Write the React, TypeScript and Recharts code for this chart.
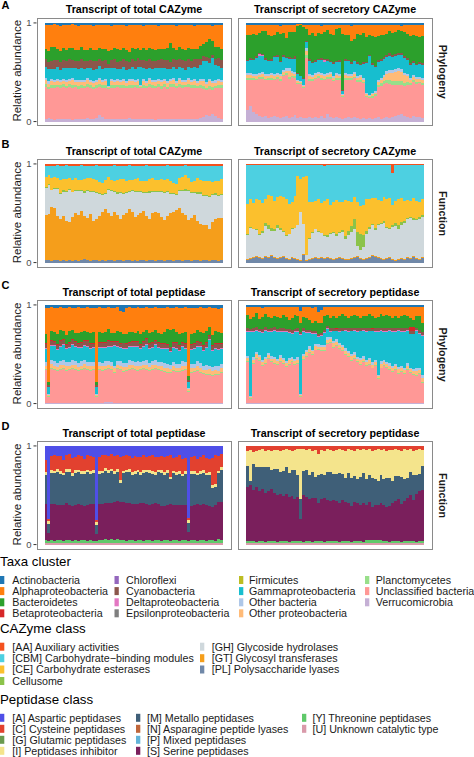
import React from 'react';
import { BarChart, Bar, XAxis, YAxis } from 'recharts';

// 60 samples per panel, same order in every panel
const SAMPLES = Array.from({ length: 60 }, (_, i) => `S${String(i + 1).padStart(2, '0')}`);

// ---------- legend groups ----------
const TAXA = [
  'Actinobacteria', 'Alphaproteobacteria', 'Bacteroidetes', 'Betaproteobacteria',
  'Chloroflexi', 'Cyanobacteria', 'Deltaproteobacteria', 'Epsilonproteobacteria',
  'Firmicutes', 'Gammaproteobacteria', 'Other bacteria', 'Other proteobacteria',
  'Planctomycetes', 'Unclassified bacteria', 'Verrucomicrobia',
];
const TAXA_COLORS = [
  '#1f77b4', '#ff7f0e', '#2ca02c', '#d62728', '#9467bd', '#8c564b', '#e377c2', '#7f7f7f',
  '#bcbd22', '#17becf', '#aec7e8', '#ffbb78', '#98df8a', '#ff9896', '#c5b0d5',
];
const CAZY = [
  '[AA] Auxiliary activities', '[CBM] Carbohydrate\u2212binding modules', '[CE] Carbohydrate esterases', 'Cellusome',
  '[GH] Glycoside hydrolases', '[GT] Glycosyl transferases', '[PL] Polysaccharide lyases',
];
const CAZY_COLORS = ['#f4511e', '#4dd0e1', '#fbc02d', '#8bc34a', '#cfd8dc', '#f59e1b', '#7088a8'];
const PEPT = [
  '[A] Aspartic peptidases', '[C] Cysteine peptidases', '[G] Glutamic peptidases', '[I] Peptidases inhibitor',
  '[M] Metallo peptidases', '[N] Asparagine peptide lyases', '[P] Mixed peptidases', '[S] Serine peptidases',
  '[Y] Threonine peptidases', '[U] Unknown catalytic type',
];
const PEPT_COLORS = ['#4f4fe8', '#e2412f', '#6a9a4f', '#f4e48c', '#3f5f78', '#c0663a', '#62b3d8', '#7a1f5c', '#5fc96a', '#d99aaa'];

// ---------- A: total CAZyme, phylogeny ----------
const aTVerru = [3,3,3,2,3,3,3,3,3,2, 3,3,3,3,3,3,3,4,7,5, 3,3,3,3,3,3,3,3,3,3, 3,3,3,3,3,3,3,2,3,3, 3,3,3,3,3,3,3,3,3,3, 3,3,4,5,7,6,8,5,4,3];
const aTUncl = [31,29,30,31,31,30,31,30,31,31, 31,30,31,30,31,31,30,29,27,28, 31,30,31,30,31,30,31,31,30,31, 31,30,31,31,30,31,30,31,31,30, 31,30,31,31,30,31,30,31,31,30, 31,30,29,28,26,27,25,28,29,30];
const aTPlanc = [3,2,3,3,2,3,3,2,3,3, 2,3,3,2,3,3,2,3,3,3, 3,1,3,3,2,3,3,2,3,3, 2,3,1,3,2,3,3,2,3,3, 3,2,3,3,2,3,3,2,3,3, 3,2,3,3,2,3,3,2,3,3];
const aTOthP = [4,3,4,3,4,3,3,4,3,4, 3,4,3,4,3,3,4,3,4,3, 4,1,4,3,4,3,4,3,3,4, 3,4,1,4,3,4,3,4,3,4, 3,4,3,4,3,4,3,3,4,3, 4,3,4,5,4,5,4,3,4,3];
const aTOthB = [2,2,2,2,2,2,2,2,2,2, 2,2,2,2,2,2,2,2,2,2, 2,1,2,2,2,2,2,2,2,2, 2,2,1,2,2,2,2,2,2,2, 2,2,2,2,2,2,2,2,2,2, 2,2,2,2,2,2,2,2,2,2];
const aTGamma = [11,12,10,11,12,10,11,12,11,10, 12,11,12,11,10,12,11,11,12,11, 11,18,11,12,10,11,12,11,10,12, 11,12,18,11,12,10,11,12,11,12, 11,12,10,11,12,11,12,10,11,12, 12,13,14,18,22,16,24,15,13,12];
const aTCyano = [8,7,8,9,7,8,8,7,9,8, 7,8,9,8,7,8,9,8,7,8, 8,4,8,9,7,8,8,9,7,8, 8,9,7,8,8,9,8,7,8,9, 8,9,7,8,9,8,8,9,8,7, 8,9,6,5,4,5,3,6,8,8];
const aTBact = [10,11,13,12,10,11,12,10,11,12, 10,11,12,10,11,12,11,10,11,12, 11,13,10,11,12,10,11,12,10,11, 12,10,11,12,10,11,12,10,11,10, 11,12,19,11,10,12,11,10,11,12, 11,10,12,13,16,20,14,12,11,10];
const aTAlpha = [24,25,22,23,24,25,23,25,23,23, 25,24,22,25,24,23,24,25,23,24, 24,26,24,23,24,25,23,24,26,23, 24,23,25,22,25,23,24,25,23,24, 24,23,18,23,24,22,24,25,23,24, 23,24,21,19,18,14,16,21,22,24];
const aTActino = [2,2,2,1,2,3,2,2,2,1, 2,3,2,2,2,2,3,2,2,2, 2,2,3,2,2,2,2,3,2,2, 2,2,2,3,2,2,2,2,3,2, 2,2,2,2,3,2,2,2,2,2, 3,2,2,2,2,2,3,2,2,2];

// ---------- A: secretory CAZyme, phylogeny ----------
const aSVerru = [12,16,10,8,6,5,6,4,5,6, 5,4,5,6,4,5,6,4,5,4, 4,5,4,5,4,6,4,8,5,4, 5,4,3,4,5,4,5,4,3,4, 3,4,3,4,5,3,4,5,4,5, 6,7,8,6,5,4,6,5,5,4];
const aSUncl = [30,26,32,34,37,38,36,38,37,36, 38,37,40,41,38,39,37,36,35,30, 60,36,37,38,40,37,39,35,38,37, 37,38,22,38,37,39,38,36,37,35, 22,20,21,22,30,32,33,34,33,32, 30,29,29,30,32,33,34,33,34,33];
const aSPlanc = [2,2,2,1,2,2,1,2,2,1, 2,2,1,2,2,1,2,1,1,1, 3,2,2,1,2,2,1,2,2,1, 2,2,1,2,2,2,1,2,2,1, 1,1,2,2,2,3,3,3,4,4, 4,4,4,3,3,2,2,2,2,2];
const aSOthP = [3,3,2,3,2,3,3,2,3,3, 2,3,3,2,6,3,2,2,1,1, 5,3,2,3,2,3,3,2,3,2, 3,2,1,3,2,3,3,2,3,2, 2,1,2,2,3,3,4,6,7,8, 9,10,9,8,6,4,3,3,3,3];
const aSOthB = [2,2,2,2,2,2,2,2,2,2, 2,2,2,3,3,2,2,1,1,1, 3,2,2,2,2,2,2,2,2,2, 2,2,1,2,2,2,2,2,2,2, 1,1,1,2,2,2,2,3,3,3, 3,3,3,2,2,2,2,2,2,2];
const aSGamma = [12,13,14,16,17,16,14,13,12,17, 16,12,13,10,9,12,13,6,5,6, 6,13,12,11,12,13,12,12,10,12, 11,12,3,12,13,10,11,12,10,14, 30,40,28,24,18,17,16,14,13,13, 13,13,14,15,14,13,12,12,13,13];
const aSDelta = [0,0,0,0,2,1,0,0,0,0, 0,0,0,0,0,0,0,0,0,0, 0,0,0,0,0,0,2,0,0,0, 0,0,0,0,0,0,0,0,0,0, 0,0,0,0,0,0,0,0,0,0, 0,0,0,0,0,0,0,0,0,0];
const aSCyano = [1,2,1,2,2,1,2,1,2,1, 2,1,2,1,2,1,2,1,1,1, 1,2,1,2,1,2,1,2,1,2, 1,2,1,2,1,2,1,2,1,2, 1,1,2,1,2,2,2,2,3,2, 2,2,3,2,2,2,2,1,2,2];
const aSBact = [26,24,26,22,20,24,28,26,24,22, 24,28,22,20,25,26,24,50,54,52, 12,25,30,24,26,25,28,30,28,27, 32,33,56,24,26,22,21,28,30,30, 26,21,28,30,25,23,22,21,22,22, 22,23,22,25,25,28,27,29,26,27];
const aSAlpha = [10,10,9,10,8,6,6,10,11,10, 7,8,8,13,7,7,7,2,1,2, 4,10,8,11,8,8,7,5,9,10, 4,3,9,10,10,16,14,9,10,8, 12,10,11,13,11,10,10,9,6,8, 7,5,5,7,9,11,10,11,12,11];
const aSActino = [2,2,2,2,2,2,2,2,2,2, 2,3,2,2,2,2,2,1,1,2, 2,2,2,2,2,3,2,2,2,2, 2,2,2,2,2,3,2,2,2,2, 2,2,2,2,2,2,2,2,2,2, 2,2,3,2,2,2,2,2,2,2];

// ---------- B: total CAZyme, function ----------
const bTPL = [3,3,2,3,3,2,3,2,3,2, 3,2,3,4,3,2,3,3,2,3, 2,3,3,2,3,3,2,3,3,2, 3,2,3,3,2,3,3,2,3,3, 2,3,3,2,3,3,2,3,3,2, 3,3,2,3,3,2,3,3,2,3];
const bTGT = [45,46,54,52,44,42,45,40,38,44, 48,45,50,46,44,48,40,42,46,49, 52,48,45,50,47,42,46,48,52,50, 44,46,48,50,45,42,47,50,48,44, 42,45,48,50,54,52,48,45,40,44, 46,40,38,36,35,32,38,42,43,43];
const bTGH = [28,30,18,20,28,26,24,30,32,26, 22,24,20,24,28,22,30,26,22,18, 16,24,26,20,22,28,22,20,18,22, 26,24,22,18,24,28,22,20,22,26, 28,24,20,18,16,18,22,24,30,25, 22,28,30,30,30,32,28,24,22,24];
const bTCell = [1,1,0,1,1,1,2,1,1,0, 1,1,1,2,1,1,1,1,1,1, 1,1,1,1,2,1,1,1,1,1, 1,1,1,1,1,2,1,1,1,1, 1,1,1,1,1,1,1,2,1,1, 1,2,2,1,1,1,1,2,1,1];
const bTCE = [10,9,12,11,10,13,12,12,11,12, 13,10,11,13,12,14,12,13,12,11, 13,12,10,11,12,13,14,12,11,10, 12,13,10,12,11,12,13,12,11,12, 12,13,12,10,11,12,13,14,12,11, 12,14,13,14,15,16,12,13,14,15];
const bTCBM = [11,9,12,11,13,14,13,14,12,14, 12,14,15,14,13,12,14,15,16,18, 14,12,15,16,15,14,13,15,16,15, 14,12,16,15,16,14,12,14,15,14, 15,14,16,18,20,12,11,10,12,16, 15,13,14,16,15,15,16,15,15,14];
const bTAA = [2,2,2,2,1,2,2,1,2,2, 2,2,1,2,2,2,2,1,2,2, 2,2,2,1,2,2,2,2,1,2, 2,2,2,2,1,2,2,2,2,2, 2,1,2,2,2,2,2,1,2,2, 2,2,2,2,2,2,2,2,2,2];

// ---------- B: secretory CAZyme, function ----------
const bSPL = [3,4,5,6,5,4,6,5,7,5, 4,5,6,4,3,5,4,3,2,8, 2,3,4,5,4,5,4,5,4,3, 4,5,4,3,3,4,5,6,4,3, 4,5,7,6,5,4,3,4,5,3, 2,3,4,3,5,4,6,4,3,5];
const bSGT = [1,1,1,1,1,1,1,1,1,1, 1,1,1,1,1,1,1,1,1,1, 1,1,1,1,1,1,1,1,1,1, 1,1,1,1,1,1,1,1,1,1, 1,1,1,1,1,1,1,1,1,1, 1,1,1,1,1,1,1,1,1,1];
const bSGH = [24,30,28,26,22,25,30,28,24,26, 30,27,24,22,25,28,30,34,48,30, 5,20,25,28,26,24,22,20,24,26, 22,24,26,20,24,26,28,10,8,12, 24,28,30,26,32,34,36,30,28,32, 34,30,33,36,38,40,36,38,40,40];
const bSCell = [1,1,0,1,1,2,3,4,3,2, 3,2,1,1,0,1,0,0,0,0, 0,1,1,0,1,0,1,2,1,1, 2,1,2,3,4,6,10,14,16,12, 3,2,1,2,1,1,2,1,1,2, 3,4,3,2,1,1,2,1,2,2];
const bSCE = [30,28,26,30,34,28,24,30,32,28, 28,32,34,36,30,26,32,50,34,48, 80,36,30,28,32,30,34,36,28,30, 34,30,28,36,30,24,22,30,28,30, 32,28,26,30,24,22,24,28,30,20, 22,26,24,20,18,16,20,18,15,16];
const bSCBM = [40,35,39,35,36,39,35,31,32,37, 33,32,33,35,40,38,32,11,14,12, 11,38,38,37,35,39,36,35,41,38, 36,38,38,36,37,38,33,38,42,41, 35,35,34,34,36,37,33,35,34,33, 37,35,34,37,36,37,34,37,38,35];
const bSAA = [1,1,1,1,1,1,1,1,1,1, 1,1,1,1,1,1,1,1,1,1, 1,1,1,1,1,1,2,1,1,1, 1,1,1,1,1,1,1,1,1,1, 1,1,1,1,1,1,1,1,1,9, 1,1,1,1,1,1,1,1,1,1];

// ---------- C: total peptidase, phylogeny ----------
const cTVerru = [1,1,1,1,1,1,1,1,1,1, 1,1,1,1,1,1,1,1,1,1, 2,2,2,1,1,1,1,1,1,1, 1,1,1,1,1,1,1,1,1,1, 1,1,1,1,1,1,1,1,1,1, 1,1,1,1,1,1,1,1,1,1];
const cTUncl = [33,6,34,33,32,33,34,32,33,34, 33,32,33,34,33,32,33,6,33,32, 32,33,32,30,33,34,33,32,33,34, 33,32,33,34,33,32,33,34,33,32, 31,30,31,32,31,30,31,32,11,29, 30,31,29,28,27,28,26,27,28,29];
const cTPlanc = [1,1,1,1,1,1,1,1,1,1, 1,1,1,1,1,1,1,1,1,1, 1,1,1,1,1,1,1,1,1,1, 1,1,1,1,1,1,1,1,1,1, 1,1,1,1,1,1,1,1,1,1, 1,1,1,1,1,1,1,1,1,1];
const cTOthP = [3,1,4,3,3,4,3,4,3,3, 4,3,3,4,3,4,3,1,3,4, 3,4,3,4,3,3,4,3,4,3, 3,4,3,3,4,3,4,3,3,4, 3,4,3,4,3,3,4,3,2,4, 3,4,4,3,4,5,4,4,3,4];
const cTOthB = [4,1,4,5,4,4,5,4,4,5, 4,4,5,4,4,5,4,1,4,4, 5,4,4,2,4,5,4,4,5,4, 4,5,4,4,5,4,4,5,4,4, 5,4,4,5,4,4,5,4,1,4, 4,5,4,4,5,3,4,4,5,4];
const cTGamma = [13,7,14,15,13,14,15,13,14,15, 14,15,13,14,15,13,14,7,14,15, 13,14,15,20,14,13,15,14,13,14, 15,14,13,14,15,14,13,15,14,13, 14,15,13,14,15,13,14,13,6,14, 15,14,16,15,17,26,15,17,16,15];
const cTDelta = [1,0,1,1,1,1,1,1,1,1, 1,1,1,1,1,1,1,0,1,1, 1,1,1,1,1,1,1,1,1,1, 1,1,1,1,1,1,1,1,1,1, 1,1,1,1,1,1,1,1,0,1, 1,1,1,1,1,1,1,1,1,1];
const cTCyano = [4,2,4,3,4,5,4,3,4,4, 4,3,4,4,5,4,3,2,4,4, 4,5,4,3,4,4,5,4,3,4, 4,4,3,4,5,4,4,3,4,4, 4,3,4,4,5,4,3,4,2,4, 4,4,3,4,4,3,4,4,5,4];
const cTBeta = [1,0,1,1,1,1,1,1,1,1, 1,1,1,1,1,1,1,0,1,1, 1,1,1,1,1,1,1,1,1,1, 1,1,1,1,1,1,1,1,1,1, 1,1,1,1,1,1,1,1,0,1, 1,1,1,1,1,1,1,1,1,1];
const cTBact = [10,3,9,10,11,10,9,10,11,10, 9,10,11,10,9,10,11,3,10,9, 10,11,9,8,10,11,9,10,11,10, 9,10,11,10,9,10,11,10,9,10, 12,16,17,13,10,11,9,10,4,10, 9,11,10,12,10,8,10,12,11,9];
const cTAlpha = [26,75,24,24,26,23,23,27,24,22, 25,26,24,23,25,26,24,75,25,26, 24,23,25,25,24,22,24,26,25,24, 25,24,26,24,23,25,24,23,25,26, 24,22,23,22,25,26,25,25,71,26, 25,22,24,25,23,20,26,23,23,25];
const cTActino = [3,3,2,3,3,2,3,3,2,3, 3,2,3,3,2,3,3,3,2,3, 3,2,3,3,2,6,7,3,2,3, 3,2,3,3,2,3,3,2,3,3, 3,2,3,3,2,3,3,2,3,3, 3,3,2,3,3,2,3,3,4,3];

// ---------- C: secretory peptidase, phylogeny ----------
const cSVerru = [1,1,1,1,1,1,1,1,1,1, 1,1,1,1,1,1,1,1,1,1, 1,1,1,1,1,1,1,1,1,1, 1,1,1,1,1,1,1,1,1,1, 1,1,1,1,1,1,1,1,1,1, 1,1,1,1,1,1,1,1,1,1];
const cSUncl = [42,4,40,44,42,38,40,44,42,40, 38,42,40,36,40,42,38,40,6,44, 48,52,50,55,58,56,54,60,62,58, 60,56,54,50,48,44,46,42,40,42, 38,40,36,38,24,36,38,36,34,32, 34,30,32,30,34,32,30,28,30,20];
const cSPlanc = [1,1,1,1,1,1,1,1,1,1, 1,1,1,1,1,1,1,1,1,1, 1,1,1,1,1,1,1,1,1,1, 1,1,1,1,1,1,1,1,1,1, 1,1,1,1,1,1,1,1,1,1, 1,1,1,1,1,1,1,1,1,1];
const cSOthP = [3,1,3,4,3,3,4,3,3,4, 3,4,3,3,4,3,3,4,1,3, 4,3,3,4,3,3,4,3,3,4, 3,3,4,3,3,4,3,3,4,3, 3,4,3,3,2,4,3,3,4,3, 3,4,3,3,4,3,3,4,3,4];
const cSOthB = [2,1,3,2,2,3,2,2,3,2, 2,3,2,2,3,2,2,3,1,2, 2,3,2,2,3,2,2,3,2,2, 3,2,2,3,2,2,3,2,2,3, 2,2,3,2,2,3,2,2,3,2, 2,3,2,2,3,2,2,3,2,3];
const cSGamma = [24,64,26,22,24,28,26,22,25,26, 28,24,26,30,26,24,28,26,60,22, 18,14,16,10,8,10,12,8,6,10, 8,12,14,18,20,24,22,26,28,26, 30,28,32,30,44,32,30,32,34,36, 34,38,36,38,34,36,38,40,36,40];
const cSDelta = [1,1,1,1,1,1,1,1,1,1, 1,1,1,1,1,1,1,1,1,1, 1,1,1,1,1,1,1,1,1,1, 1,1,1,1,1,1,1,1,1,1, 1,1,1,1,1,1,1,1,1,1, 1,1,1,1,1,1,1,1,1,1];
const cSCyano = [3,2,3,3,2,3,3,2,3,3, 2,3,3,2,3,3,2,3,2,3, 3,2,3,3,2,3,3,2,3,3, 2,3,3,2,3,3,2,3,3,2, 3,3,2,3,3,2,3,3,2,3, 3,2,3,3,2,3,3,2,3,3];
const cSBeta = [0,0,0,0,0,0,0,0,0,0, 0,0,0,0,0,0,0,0,0,0, 0,0,0,0,0,0,0,0,0,0, 1,0,0,0,0,0,0,0,0,0, 0,0,1,0,0,0,0,0,0,0, 0,0,0,0,0,4,4,0,0,0];
const cSBact = [14,10,12,14,10,12,14,12,10,12, 12,10,14,12,10,12,14,12,10,12, 12,10,8,10,12,10,14,12,10,12, 10,12,14,12,10,12,14,12,10,12, 12,14,12,10,12,14,12,14,12,10, 12,10,12,14,12,10,8,12,14,10];
const cSAlpha = [8,12,10,6,12,10,7,10,12,9, 10,12,8,10,14,12,8,10,12,10, 12,14,16,15,12,14,10,8,12,10, 12,10,8,10,12,10,8,10,12,10, 10,8,10,12,10,8,10,8,10,12, 10,12,10,8,10,12,14,10,10,16];
const cSActino = [2,2,2,2,2,3,2,2,2,2, 2,2,2,2,2,2,2,2,6,2, 2,2,3,2,8,6,2,2,2,2, 2,2,2,2,2,2,2,2,2,2, 2,2,2,2,2,2,2,2,2,2, 2,2,2,2,2,2,2,2,2,2];

// ---------- D: total peptidase, function ----------
const dTU = [2,2,2,2,2,2,2,2,2,2, 2,2,2,2,2,2,2,2,2,2, 2,2,2,2,2,2,2,2,2,2, 2,2,2,2,2,2,2,2,2,2, 2,2,2,2,2,2,2,2,2,2, 2,2,2,2,2,2,2,2,2,2];
const dTY = [3,2,3,2,3,3,2,3,3,2, 3,2,3,3,2,3,2,2,3,3, 4,3,4,3,4,3,3,2,3,3, 2,3,3,2,3,3,2,3,3,2, 3,3,2,3,3,2,3,3,2,3, 3,2,3,3,2,3,3,2,4,3];
const dTS = [36,8,36,37,36,35,36,37,36,35, 36,37,36,35,36,37,38,7,37,36, 37,38,37,39,40,41,40,39,38,37, 38,37,38,39,37,36,37,38,37,36, 35,36,37,36,35,36,35,36,8,35, 36,37,36,37,36,35,34,37,38,39];
const dTM = [30,9,32,31,33,32,31,32,33,31, 32,33,31,32,33,30,31,9,31,32, 33,31,32,30,31,20,30,31,32,30, 31,32,30,31,33,32,31,30,32,33, 31,32,25,33,31,32,30,31,9,32, 31,30,32,31,30,32,20,18,30,32];
const dTI = [3,3,3,2,3,3,2,3,3,3, 3,2,3,3,2,3,3,3,3,2, 3,3,2,3,3,3,3,2,3,3, 3,2,3,3,2,3,3,3,2,3, 3,3,3,2,3,3,2,3,3,3, 3,2,3,3,2,3,3,3,2,3];
const dTC = [12,2,14,16,14,15,13,14,16,15, 14,15,16,13,15,16,14,2,15,16, 14,15,16,15,14,25,15,16,14,15, 16,14,15,16,14,15,16,15,14,15, 16,15,22,14,15,16,15,14,2,15, 16,14,15,16,15,14,28,30,16,14];
const dTA = [14,74,10,9,10,10,14,9,8,12, 11,9,10,13,9,10,11,75,11,9, 9,10,8,11,10,12,11,9,10,12, 10,11,12,9,11,10,9,12,11,10, 11,10,9,12,11,9,13,12,72,11, 10,13,11,9,12,13,12,9,10,8];

// ---------- D: secretory peptidase, function ----------
const dSU = [2,2,2,2,2,2,2,2,2,2, 2,2,2,2,2,2,2,2,2,2, 2,2,2,2,2,2,2,2,2,2, 2,2,2,2,2,2,2,2,2,2, 2,2,2,2,2,2,2,2,2,2, 2,2,2,2,2,2,2,2,2,2];
const dSY = [2,2,2,1,2,2,1,2,2,2, 1,2,2,2,1,2,2,2,2,1, 2,2,1,2,2,2,1,2,2,2, 2,1,2,2,2,1,2,2,2,1, 3,3,3,3,3,3,2,2,1,2, 2,2,1,2,2,2,2,1,2,2];
const dSS = [54,56,52,55,50,52,48,50,52,48, 46,48,45,47,44,46,42,44,22,46, 44,42,45,43,40,42,44,41,40,42, 40,38,42,40,38,36,40,38,36,38, 36,38,34,36,35,38,36,34,36,38, 40,42,38,40,44,46,42,48,50,52];
const dSM = [22,4,26,20,24,22,26,24,20,24, 26,22,25,28,24,26,30,22,20,24, 28,24,26,22,30,26,24,28,30,26, 28,30,26,24,30,28,26,24,28,30, 26,28,30,26,24,28,26,30,28,22, 26,24,28,22,20,24,26,20,18,24];
const dSI = [15,31,13,16,17,18,16,17,19,19, 19,22,21,18,23,20,20,26,51,22, 20,26,22,27,22,24,24,23,22,24, 24,24,25,28,24,28,26,30,28,24, 30,26,28,30,33,26,30,28,28,32, 27,26,26,31,29,23,25,25,25,17];
const dSC = [5,4,6,5,4,3,5,4,5,4, 4,5,4,3,4,5,4,3,3,3, 4,3,5,4,9,4,5,3,4,5, 4,3,4,5,3,4,5,3,4,3, 4,3,5,4,3,4,3,5,4,4, 3,4,5,3,4,3,5,4,3,4];

// ---------- helpers ----------
type Cols = Record<string, number[]>;

const buildRows = (cols: Cols) =>
  SAMPLES.map((s, i) => {
    const row: Record<string, string | number> = { sample: s };
    Object.keys(cols).forEach((k) => {
      row[k] = cols[k][i];
    });
    return row;
  });

const colorMap = (names: string[], colors: string[]) => {
  const m: Record<string, string> = {};
  names.forEach((n, i) => (m[n] = colors[i]));
  return m;
};

const TAXA_COLOR = colorMap(TAXA, TAXA_COLORS);
const CAZY_COLOR = colorMap(CAZY, CAZY_COLORS);
const PEPT_COLOR = colorMap(PEPT, PEPT_COLORS);

const FONT = '"Liberation Sans", Arial, Helvetica, sans-serif';
const BOX_W = 195;
const BOX_H = 108.5;
const Y_PAD = (BOX_H * 0.05) / 1.1; // ggplot-style 5% expansion above 1 and below 0
const LEFT_BOX_X = 36.5;
const RIGHT_BOX_X = 237.5;
const ROW_TOP = [17.5, 159.2, 300.3, 441.3];

interface PanelProps {
  cols: Cols;
  order: string[]; // legend order, first level drawn on top
  colors: Record<string, string>;
  left: number;
  top: number;
  showY: boolean;
}

const Panel: React.FC<PanelProps> = ({ cols, order, colors, left, top, showY }) => {
  const rows = buildRows(cols);
  const stack = order.filter((k) => k in cols).reverse();
  const axisW = showY ? LEFT_BOX_X : 0;
  return (
    <div style={{ position: 'absolute', left: left - axisW, top }}>
      <BarChart
        width={BOX_W + axisW}
        height={BOX_H}
        data={rows}
        stackOffset="expand"
        barCategoryGap={0}
        margin={{ top: Y_PAD, right: 0, bottom: Y_PAD, left: 0 }}
      >
        <XAxis dataKey="sample" hide padding={{ left: 8, right: 9 }} />
        <YAxis
          hide={!showY}
          width={axisW}
          type="number"
          domain={[0, 1]}
          ticks={[0, 1]}
          interval={0}
          axisLine={false}
          tickSize={3}
          tickMargin={2}
          tickLine={{ stroke: '#333333' }}
          tick={{ fontSize: 9.5, fill: '#4d4d4d', fontFamily: FONT }}
        />
        {stack.map((k) => (
          <Bar key={k} dataKey={k} stackId="s" fill={colors[k]} isAnimationActive={false} />
        ))}
      </BarChart>
      <div
        style={{
          position: 'absolute',
          left: axisW,
          top: 0,
          width: BOX_W,
          height: BOX_H,
          border: '1px solid #8a8a8a',
          boxSizing: 'border-box',
          pointerEvents: 'none',
        }}
      />
    </div>
  );
};

const LegendBlock: React.FC<{
  title: string;
  titleY: number;
  names: string[];
  colors: string[];
  keyX: number[];
  textX: number[];
  rowY: number[];
}> = ({ title, titleY, names, colors, keyX, textX, rowY }) => (
  <g>
    <text x={0} y={titleY} fontSize={13.3} fill="#000">{title}</text>
    {names.map((n, i) => {
      const c = Math.floor(i / rowY.length);
      const r = i % rowY.length;
      return (
        <g key={n}>
          <rect x={keyX[c]} y={rowY[r] - 4} width={4.3} height={8} fill={colors[i]} />
          <text x={textX[c]} y={rowY[r] + 3.8} fontSize={10.7} fill="#1a1a1a">{n}</text>
        </g>
      );
    })}
  </g>
);

const ROWS = [
  { letter: 'A', left: 'Transcript of total CAZyme', right: 'Transcript of secretory CAZyme', strip: 'Phylogeny' },
  { letter: 'B', left: 'Transcript of total CAZyme', right: 'Transcript of secretory CAZyme', strip: 'Function' },
  { letter: 'C', left: 'Transcript of total peptidase', right: 'Transcript of secretory peptidase', strip: 'Phylogeny' },
  { letter: 'D', left: 'Transcript of total peptidase', right: 'Transcript of secretory peptidase', strip: 'Function' },
];

const App: React.FC = () => {
  const aTotal: Cols = {
    'Verrucomicrobia': aTVerru, 'Unclassified bacteria': aTUncl, 'Planctomycetes': aTPlanc,
    'Other proteobacteria': aTOthP, 'Other bacteria': aTOthB, 'Gammaproteobacteria': aTGamma,
    'Cyanobacteria': aTCyano, 'Bacteroidetes': aTBact, 'Alphaproteobacteria': aTAlpha, 'Actinobacteria': aTActino,
  };
  const aSecr: Cols = {
    'Verrucomicrobia': aSVerru, 'Unclassified bacteria': aSUncl, 'Planctomycetes': aSPlanc,
    'Other proteobacteria': aSOthP, 'Other bacteria': aSOthB, 'Gammaproteobacteria': aSGamma,
    'Deltaproteobacteria': aSDelta, 'Cyanobacteria': aSCyano, 'Bacteroidetes': aSBact,
    'Alphaproteobacteria': aSAlpha, 'Actinobacteria': aSActino,
  };
  const bTotal: Cols = {
    [CAZY[6]]: bTPL, [CAZY[5]]: bTGT, [CAZY[4]]: bTGH, [CAZY[3]]: bTCell,
    [CAZY[2]]: bTCE, [CAZY[1]]: bTCBM, [CAZY[0]]: bTAA,
  };
  const bSecr: Cols = {
    [CAZY[6]]: bSPL, [CAZY[5]]: bSGT, [CAZY[4]]: bSGH, [CAZY[3]]: bSCell,
    [CAZY[2]]: bSCE, [CAZY[1]]: bSCBM, [CAZY[0]]: bSAA,
  };
  const cTotal: Cols = {
    'Verrucomicrobia': cTVerru, 'Unclassified bacteria': cTUncl, 'Planctomycetes': cTPlanc,
    'Other proteobacteria': cTOthP, 'Other bacteria': cTOthB, 'Gammaproteobacteria': cTGamma,
    'Deltaproteobacteria': cTDelta, 'Cyanobacteria': cTCyano, 'Betaproteobacteria': cTBeta,
    'Bacteroidetes': cTBact, 'Alphaproteobacteria': cTAlpha, 'Actinobacteria': cTActino,
  };
  const cSecr: Cols = {
    'Verrucomicrobia': cSVerru, 'Unclassified bacteria': cSUncl, 'Planctomycetes': cSPlanc,
    'Other proteobacteria': cSOthP, 'Other bacteria': cSOthB, 'Gammaproteobacteria': cSGamma,
    'Deltaproteobacteria': cSDelta, 'Cyanobacteria': cSCyano, 'Betaproteobacteria': cSBeta,
    'Bacteroidetes': cSBact, 'Alphaproteobacteria': cSAlpha, 'Actinobacteria': cSActino,
  };
  const dTotal: Cols = {
    [PEPT[9]]: dTU, [PEPT[8]]: dTY, [PEPT[7]]: dTS, [PEPT[4]]: dTM,
    [PEPT[3]]: dTI, [PEPT[1]]: dTC, [PEPT[0]]: dTA,
  };
  const dSecr: Cols = {
    [PEPT[9]]: dSU, [PEPT[8]]: dSY, [PEPT[7]]: dSS, [PEPT[4]]: dSM,
    [PEPT[3]]: dSI, [PEPT[1]]: dSC,
  };

  const panels = [
    [aTotal, aSecr, TAXA, TAXA_COLOR],
    [bTotal, bSecr, CAZY, CAZY_COLOR],
    [cTotal, cSecr, TAXA, TAXA_COLOR],
    [dTotal, dSecr, PEPT, PEPT_COLOR],
  ] as [Cols, Cols, string[], Record<string, string>][];

  return (
    <div
      style={{
        position: 'absolute',
        left: 0,
        top: 0,
        width: 474,
        height: 757,
        background: '#ffffff',
        overflow: 'hidden',
        fontFamily: FONT,
      }}
    >
      <style>{'.recharts-bar-rectangle path { shape-rendering: crispEdges; }'}</style>
      {panels.map(([tot, sec, order, colors], r) => (
        <React.Fragment key={r}>
          <Panel cols={tot} order={order} colors={colors} left={LEFT_BOX_X} top={ROW_TOP[r]} showY />
          <Panel cols={sec} order={order} colors={colors} left={RIGHT_BOX_X} top={ROW_TOP[r]} showY={false} />
        </React.Fragment>
      ))}

      <svg
        width={474}
        height={757}
        style={{ position: 'absolute', left: 0, top: 0, pointerEvents: 'none', fontFamily: FONT }}
      >
        {ROWS.map((row, r) => {
          const t = ROW_TOP[r];
          const mid = t + BOX_H / 2;
          return (
            <g key={row.letter}>
              <text x={1.5} y={r === 0 ? 9 : t - 11} fontSize={11} fontWeight="bold" fill="#000">{row.letter}</text>
              <text x={LEFT_BOX_X + BOX_W / 2} y={t - 4.2} fontSize={10.7} fontWeight="bold" textAnchor="middle" fill="#000">
                {row.left}
              </text>
              <text x={RIGHT_BOX_X + BOX_W / 2} y={t - 4.2} fontSize={10.7} fontWeight="bold" textAnchor="middle" fill="#000">
                {row.right}
              </text>
              <text
                transform={`translate(16.5,${mid - 1}) rotate(-90)`}
                fontSize={11.5}
                textAnchor="middle"
                dominantBaseline="central"
                fill="#1a1a1a"
              >
                Relative abundance
              </text>
              <text
                transform={`translate(442.5,${mid}) rotate(90)`}
                fontSize={10.7}
                fontWeight="bold"
                textAnchor="middle"
                dominantBaseline="central"
                fill="#1a1a1a"
              >
                {row.strip}
              </text>
            </g>
          );
        })}

        <LegendBlock
          title="Taxa cluster"
          titleY={566}
          names={TAXA}
          colors={TAXA_COLORS}
          keyX={[0, 114.5, 239, 365]}
          textX={[12.3, 126, 249, 375.7]}
          rowY={[580, 591.1, 602.3, 613.3]}
        />
        <LegendBlock
          title="CAZyme class"
          titleY={632.8}
          names={CAZY}
          colors={CAZY_COLORS}
          keyX={[0, 200]}
          textX={[12.3, 211.7]}
          rowY={[646.7, 658.2, 669.5, 681]}
        />
        <LegendBlock
          title="Peptidase class"
          titleY={703.8}
          names={PEPT}
          colors={PEPT_COLORS}
          keyX={[0, 136, 302]}
          textX={[12.3, 147, 312.5]}
          rowY={[717.8, 728.8, 739.8, 750.8]}
        />
      </svg>
    </div>
  );
};

export default App;
